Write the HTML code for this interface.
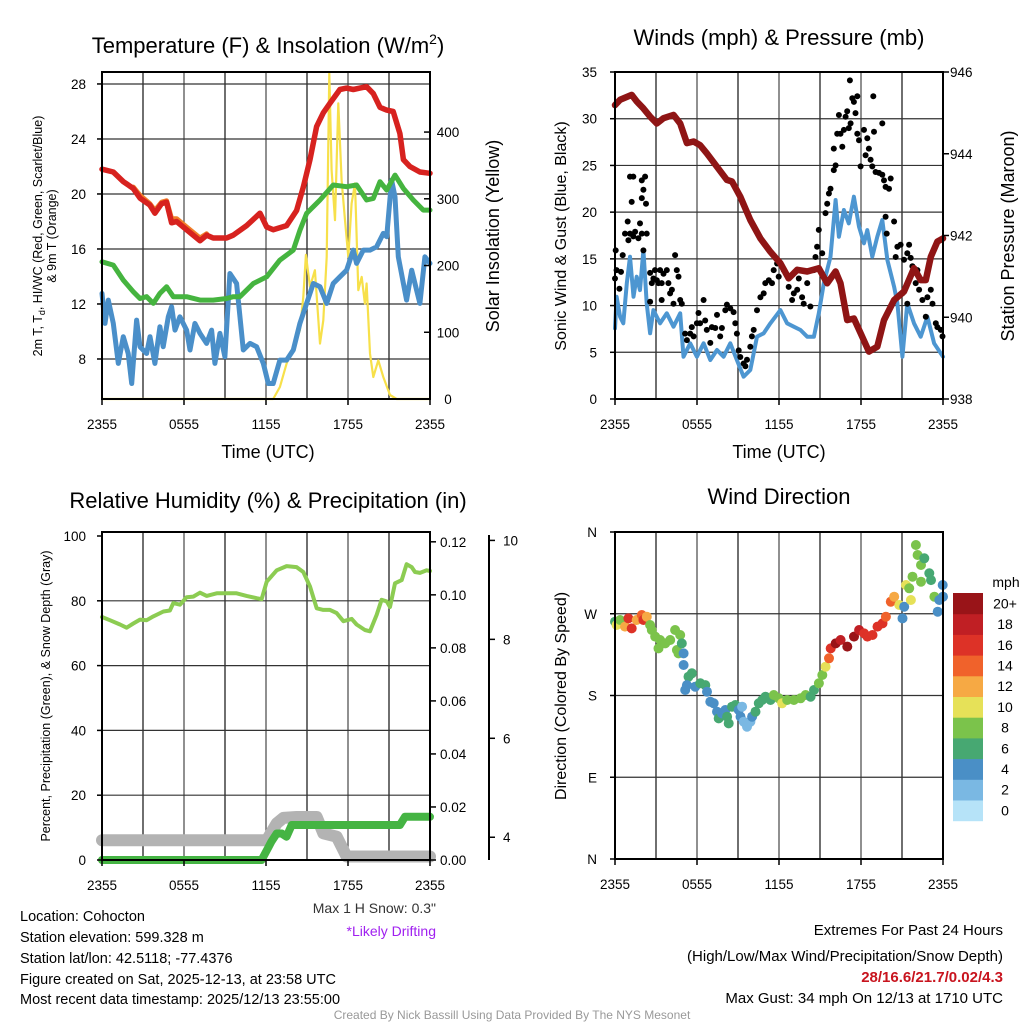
<!DOCTYPE html>
<html><head><meta charset="utf-8"><style>
body{margin:0;background:#fff}
svg{display:block;font-family:"Liberation Sans",sans-serif}
</style></head><body>
<svg id="s" width="1024" height="1024" viewBox="0 0 1024 1024" xmlns="http://www.w3.org/2000/svg">
<rect width="1024" height="1024" fill="#fff"/>
<g id="g"></g>
<g font-size="22" text-anchor="middle" fill="#000">
<text x="268" y="53">Temperature (F) &amp; Insolation (W/m<tspan dy="-9" font-size="14">2</tspan><tspan dy="9">)</tspan></text>
<text x="779" y="45">Winds (mph) &amp; Pressure (mb)</text>
<text x="268" y="508">Relative Humidity (%) &amp; Precipitation (in)</text>
<text x="779" y="504">Wind Direction</text>
</g>
<g font-size="18" text-anchor="middle">
<text x="268" y="458">Time (UTC)</text>
<text x="779" y="458">Time (UTC)</text>
<text transform="translate(499,236) rotate(-90)">Solar Insolation (Yellow)</text>
<text transform="translate(1014,236) rotate(-90)">Station Pressure (Maroon)</text>
<text transform="translate(566,236) rotate(-90)" font-size="16">Sonic Wind &amp; Gust (Blue, Black)</text>
<text transform="translate(566,696) rotate(-90)" font-size="16">Direction (Colored By Speed)</text>
<text transform="translate(42,236) rotate(-90)" font-size="12.5">2m T, T<tspan dy="3" font-size="9">d</tspan><tspan dy="-3">, HI/WC (Red, Green, Scarlet/Blue)</tspan></text>
<text transform="translate(56,236) rotate(-90)" font-size="12.5">&amp; 9m T (Orange)</text>
<text transform="translate(50,696) rotate(-90)" font-size="12.5">Percent, Precipitation (Green), &amp; Snow Depth (Gray)</text>
</g>
<g font-size="14">
<text x="436" y="913" text-anchor="end" fill="#333">Max 1 H Snow: 0.3"</text>
<text x="436" y="936" text-anchor="end" fill="#a020f0">*Likely Drifting</text>
<g font-size="14.5">
<text x="20" y="921">Location: Cohocton</text>
<text x="20" y="942">Station elevation: 599.328 m</text>
<text x="20" y="963">Station lat/lon: 42.5118; -77.4376</text>
<text x="20" y="984">Figure created on Sat, 2025-12-13, at 23:58 UTC</text>
<text x="20" y="1004">Most recent data timestamp: 2025/12/13 23:55:00</text>
</g>
<g font-size="15" text-anchor="end">
<text x="1003" y="935">Extremes For Past 24 Hours</text>
<text x="1003" y="961">(High/Low/Max Wind/Precipitation/Snow Depth)</text>
<text x="1003" y="982" fill="#c8141e" font-weight="bold">28/16.6/21.7/0.02/4.3</text>
<text x="1003" y="1003">Max Gust: 34 mph On 12/13 at 1710 UTC</text>
</g>
<text x="512" y="1019" text-anchor="middle" font-size="12" fill="#999">Created By Nick Bassill Using Data Provided By The NYS Mesonet</text>
</g>
</svg>
<script>
// ---- Panel 1 data ----
const tempH=[0,0.83,1.56,2.29,2.78,3.5,3.87,4.36,4.73,5.09,5.46,6.19,7.17,7.65,8.14,9.12,9.6,10.58,11.56,12.05,12.53,13.51,14.24,14.73,15.22,15.7,16.19,16.68,17.41,17.9,18.39,18.87,19.36,19.85,20.34,20.83,21.31,21.8,22.05,22.53,23.26,24];
const tempV=[21.8,21.6,20.9,20.4,19.7,19.2,18.6,19.3,19.4,17.9,18.0,17.4,16.6,17.0,16.8,16.8,17.0,17.7,18.6,17.6,17.4,17.7,18.8,20.5,22.5,24.9,25.9,26.6,27.6,27.7,27.6,27.7,27.8,27.3,26.3,26.1,26.0,24.4,22.5,22.0,21.6,21.5];
const orangeH=[2.29,2.78,3.5,3.87,4.36,4.73,5.09,5.46,6.19,7.17,7.65];
const orangeV=[20.5,19.9,19.3,18.8,19.4,19.5,18.2,18.2,17.6,16.8,17.1];
const dewH=[0,0.83,1.56,2.29,2.78,3.26,3.75,4.24,4.73,5.22,6.19,7.17,8.14,9.12,9.6,10.09,11.07,12.05,13.02,14,14.49,14.97,15.95,16.92,17.9,18.63,19.36,19.85,20.34,20.83,21.44,22.05,22.78,23.51,24];
const dewV=[15.07,14.83,13.74,12.89,12.4,12.53,12.04,12.77,13.25,12.53,12.53,12.28,12.28,12.4,12.53,12.53,13.49,13.98,15.19,15.92,17.37,18.59,19.56,20.65,20.53,20.65,19.56,19.68,20.89,20.28,21.37,20.4,19.56,18.83,18.83];
const wcH=[0,0.22,0.46,0.83,1.19,1.56,1.92,2.17,2.53,2.78,3.26,3.51,3.87,4.24,4.48,4.85,5.09,5.34,5.7,6.19,6.44,6.8,7.17,7.65,8.02,8.26,8.63,8.99,9.36,9.85,10.34,10.83,11.31,11.8,12.17,12.53,13.02,13.51,14,14.48,14.97,15.46,15.95,16.44,16.92,17.41,17.9,18.39,18.63,19.12,19.61,20.09,20.58,20.83,21.19,21.44,21.68,22.05,22.29,22.66,23.02,23.26,23.63,24];
const wcV=[12.77,10.59,12.28,10.59,7.68,9.62,8.4,6.22,10.83,8.89,8.4,9.62,7.68,10.34,8.89,11.07,11.8,10.1,11.07,10.1,8.65,10.59,9.86,9.13,10.1,7.68,9.86,8.16,14.22,13.49,8.65,9.13,8.89,7.68,6.22,6.22,7.92,7.92,8.65,10.59,12.04,13.49,13.25,12.04,13.49,13.98,14.46,15.92,14.95,15.92,15.92,16.16,17.13,16.89,21.01,19.8,15.43,13.49,12.28,14.46,13.01,12.04,15.43,14.95];
const solarH=[0,12.53,13.02,13.51,14,14.48,14.73,14.92,15.22,15.58,15.95,16.19,16.44,16.63,16.8,17.05,17.29,17.53,17.78,18.02,18.26,18.51,18.75,19,19.24,19.36,19.61,19.85,20.22,20.58,21.07,21.56,24];
const solarV=[0,0,18,53,78,103,153,216,168,193,83,118,213,488,343,268,443,328,268,213,293,323,163,183,143,173,68,33,58,33,6,0,0];
const p1TempTicks=[8,12,16,20,24,28];
const p1SolarTicks=[0,100,200,300,400];
const timeTicks=[0,6,12,18,24];
const timeLabels=["2355","0555","1155","1755","2355"];
// ---- Panel 2 data ----
const presH=[0,0.37,1.22,1.59,2.08,2.57,3.06,3.55,4.28,4.77,5.26,5.75,6.23,6.72,7.46,8.19,8.56,9.17,9.9,10.64,11.37,12.1,12.71,13.33,14.06,14.91,15.53,16.14,16.5,16.99,17.48,17.97,18.58,19.19,19.68,20.42,21.15,21.88,22.37,22.74,23.11,23.59,24];
const presV=[945.19,945.32,945.44,945.28,945.11,944.91,944.74,944.87,944.95,944.74,944.26,944.3,944.21,944.01,943.68,943.36,943.32,942.95,942.38,941.93,941.6,941.32,940.95,941.16,941.12,941.2,940.83,941.12,940.83,939.93,939.97,939.61,939.16,939.28,939.93,940.42,940.63,941.2,940.91,940.91,941.48,941.85,941.93];
const windH=[0,0.12,0.37,0.61,0.86,1.1,1.35,1.59,1.83,2.08,2.32,2.57,2.81,3.3,3.79,4.28,4.77,5.01,5.5,5.99,6.48,6.97,7.46,7.95,8.44,8.92,9.41,9.9,10.39,10.88,11.37,12.1,12.59,13.08,13.57,14.06,14.55,14.91,15.28,15.77,16.14,16.38,16.75,17.11,17.48,17.85,18.22,18.46,18.83,19.19,19.56,19.93,20.42,20.66,21.03,21.39,21.88,22.37,22.86,23.35,24];
const windV=[7.56,10.95,8.81,8.1,12.38,15.23,10.95,13.09,11.66,15.94,10.24,7.03,9.52,8.1,9.17,7.74,9.17,4.53,5.96,4.53,5.96,4.17,5.24,4.53,5.96,4.17,2.39,3.1,6.67,7.03,8.1,9.52,8.1,7.74,7.38,6.67,6.67,9.17,12.38,15.23,21.3,17.37,20.23,18.8,21.65,18.44,16.66,18.08,15.23,17.37,19.16,14.87,12.02,10.24,4.53,10.24,8.1,6.67,8.81,5.96,4.53];
const gustH=[0,0.05,0.12,0.32,0.44,0.56,0.73,0.93,0.98,1.1,1.34,1.47,1.71,1.83,1.96,2.08,2.32,1.22,1.1,1.34,1.96,2.2,2.08,1.96,2.27,2.57,2.69,2.81,2.93,3.06,3.18,3.3,3.42,3.55,3.79,3.91,4.03,4.16,4.28,4.4,4.52,4.65,4.77,4.89,2.57,3.42,5.13,5.26,5.5,5.62,5.75,5.99,6.11,6.23,6.48,6.6,6.72,6.97,7.09,7.34,7.46,7.7,7.82,8.07,8.19,8.44,8.68,8.8,8.92,9.05,9.17,9.41,9.54,9.66,9.9,10.02,10.15,10.39,10.64,10.88,11.0,11.25,11.49,11.61,11.86,11.98,12.35,12.71,12.96,13.08,13.33,13.45,13.69,13.81,14.06,14.3,14.55,14.67,14.79,14.91,15.16,15.4,15.53,15.65,15.77,16.01,16.14,16.01,16.26,16.38,16.5,16.63,16.75,16.87,16.99,17.11,17.24,17.36,17.48,17.6,17.73,17.85,17.73,17.19,18.46,18.22,18.58,18.34,17.97,18.7,18.83,19.07,19.32,19.56,19.68,18.95,18.9,19.56,19.8,20.05,19.8,20.42,19.88,20.17,20.54,20.66,20.9,21.15,21.39,21.52,21.64,21.76,22.13,22.0,22.25,22.49,22.74,22.86,23.11,23.23,23.47,23.59,23.84,23.96,21.03,21.39];
const gustV=[12.9,15.9,13.8,11.8,13.6,15.4,17.7,19.0,17.0,17.7,17.4,17.9,17.2,18.8,17.7,15.9,17.7,21.1,23.8,23.8,23.4,23.8,22.4,21.5,20.9,13.5,12.4,12.9,13.8,12.7,12.4,13.8,12.4,13.4,13.8,12.4,11.3,11.7,10.2,15.4,13.8,13.1,10.6,10.2,10.4,10.6,7.0,6.3,7.0,7.7,6.7,8.1,9.2,8.1,10.6,8.4,7.4,6.0,7.7,7.6,9.0,6.7,7.6,9.5,10.1,9.7,9.3,8.1,7.0,5.2,4.5,3.8,3.5,4.2,5.6,6.7,7.4,9.5,10.9,11.3,12.4,12.7,12.4,13.8,14.5,13.1,13.8,12.0,10.6,11.3,11.7,12.9,10.9,10.2,12.4,9.9,13.8,15.2,16.3,18.1,15.6,19.9,20.9,22.0,22.5,24.5,25.0,26.8,28.4,30.4,28.4,27.0,28.8,30.2,30.8,29.0,29.5,32.2,31.8,30.6,28.4,27.7,32.4,34.1,27.9,28.8,26.8,26.1,24.9,25.6,24.9,24.3,24.2,24.0,23.4,28.6,32.4,29.5,22.7,22.5,19.5,19.0,17.7,23.6,15.2,16.3,16.5,14.9,15.6,16.5,15.1,14.2,13.8,12.4,11.7,10.6,8.8,10.9,11.7,10.2,8.1,7.7,7.4,6.7,11.3,10.2];
const windTicks=[0,5,10,15,20,25,30,35];
const presTicks=[938,940,942,944,946];
// ---- Panel 3 data ----
const rhH=[0,0.58,1.32,1.8,2.29,2.78,3.27,3.75,4.49,4.97,5.22,5.71,6.19,6.68,7.17,7.66,8.39,9.12,9.85,10.58,11.32,11.68,12.05,12.78,13.51,14.24,14.73,15.22,15.71,16.19,16.68,17.17,17.66,18.27,18.63,19.24,19.61,20.1,20.46,20.83,21.07,21.44,21.93,22.29,22.66,22.9,23.27,23.76,24];
const rhV=[75.0,74.0,72.7,71.7,73.0,74.2,74.0,75.2,76.7,77.0,79.3,78.8,81.1,81.3,82.5,81.5,82.3,82.3,82.3,81.5,80.8,80.5,85.9,89.4,90.7,90.4,88.9,84.4,77.7,77.2,77.2,76.2,73.7,74.4,72.7,71.0,70.6,75.7,80.3,79.8,78.1,85.4,86.4,91.3,90.4,88.9,88.6,89.4,89.2];
const precipH=[0,11.68,12.2,12.4,12.78,13.15,13.5,13.88,21.8,22.17,24];
const precipV=[0,0,0.005,0.007,0.010,0.010,0.0088,0.0132,0.0132,0.0163,0.0163];
const snowH=[0,12.05,12.78,13.27,14.24,15.71,16.19,17.17,17.9,24];
const snowV=[3.94,3.94,4.28,4.39,4.41,4.41,4.08,4.01,3.61,3.61];
const rhTicks=[0,20,40,60,80,100];
const precipTicks=[0,0.02,0.04,0.06,0.08,0.10,0.12];
const snowTicks=[4,6,8,10];
// ---- Panel 4 data ----
const dirH=[0,0.12,0.37,0.73,0.98,1.22,1.59,1.96,2.08,2.33,2.57,2.69,2.94,3.3,3.18,3.67,4.04,4.4,4.77,4.53,4.89,4.65,5.02,5.02,5.38,5.63,5.26,5.14,5.87,6.24,6.61,6.73,6.97,7.22,7.46,7.59,7.83,8.07,8.2,8.32,8.56,8.81,9.05,9.18,9.3,9.42,9.66,9.91,10.03,10.28,10.52,10.77,11.01,11.38,11.62,11.99,12.23,12.6,13.09,13.58,13.95,14.31,14.56,14.92,15.17,15.41,15.66,15.78,16.15,16.51,17.0,17.49,17.86,18.23,18.47,18.84,19.21,19.57,19.82,20.18,20.43,20.8,21.04,21.16,21.29,21.53,21.65,21.77,22.02,22.14,22.39,22.63,23.0,23.12,22.39,23.37,23.73,23.61,23.98,24];
const dirV=[261.3,257.6,263.1,255.8,264.9,253.9,263.1,268.6,263.1,266.8,257.6,252.1,244.8,241.1,231.9,237.4,241.1,252.1,246.6,230.1,237.4,226.4,226.4,213.6,200.7,204.4,191.5,186.0,189.7,193.4,191.5,184.2,173.2,171.4,162.2,154.8,160.3,164.0,156.7,149.3,167.7,169.5,164.0,156.7,167.7,151.2,145.7,151.2,156.7,162.2,171.4,175.0,178.7,175.0,180.5,176.9,171.4,175.0,175.0,176.9,180.5,178.7,186.0,193.4,202.6,211.7,220.9,231.9,237.4,241.1,233.8,244.8,252.1,248.4,244.8,246.6,255.8,259.4,266.8,283.3,288.8,279.6,264.9,277.8,301.6,298.0,285.1,310.8,345.7,334.7,323.7,331.0,314.5,307.1,305.3,288.8,285.1,272.3,301.6,288.8];
const dirSpd=[6.5,10.5,9,12.5,16.5,17,13,15,17,12.5,8.5,8.5,8.5,8.5,8.5,8.5,8.5,8.5,8.5,8.5,6.5,8.5,4.5,4.5,6.5,6.5,4.5,4.5,4.5,6.5,6.5,4.5,4.5,4.5,4.5,6.5,4.5,4.5,6.5,6.5,6.5,6.5,4.5,4.5,2.5,2.5,2.5,2.5,4.5,6.5,6.5,6.5,6.5,6.5,8.5,8.5,10.5,8.5,8.5,8.5,8.5,6.5,6.5,8.5,8.5,10.5,14.5,16.5,20.5,18.5,20.5,20.5,18.5,16.5,16.5,16.5,16.5,16.5,14.5,14.5,12.5,10.5,4.5,4.5,10.5,8.5,10.5,8.5,8.5,8.5,8.5,6.5,6.5,6.5,8.5,8.5,4.5,4.5,4.5,4.5];
const dirTicks=[0,90,180,270,360];
const dirLabels=["N","E","S","W","N"];
const cbLabels=["0","2","4","6","8","10","12","14","16","18","20+"];
const cbColors=["#b6e3f8","#7ab8e3","#4a8fc6","#47a872","#7bc34b","#e6e158","#f6a944","#f0622b","#dd3227","#c01f24","#991418"];

const NS="http://www.w3.org/2000/svg";
const G=document.getElementById('g');
function mk(tag,attrs,parent){const e=document.createElementNS(NS,tag);for(const k in attrs)e.setAttribute(k,attrs[k]);(parent||G).appendChild(e);return e;}
function lin(d0,d1,r0,r1){return v=>r0+(v-d0)*(r1-r0)/(d1-d0);}
function path(xs,ys,sx,sy){let d='';for(let i=0;i<xs.length;i++)d+=(i?'L':'M')+sx(xs[i]).toFixed(1)+' '+sy(ys[i]).toFixed(1);return d;}

function frame(x0,x1,y0,y1,name){
  const g=mk('g',{});
  
  
  for(let i=0;i<=8;i++){const x=x0+(x1-x0)*i/8;mk('line',{x1:x,x2:x,y1:y0,y2:y1,stroke:i%2?'#222':'#555','stroke-width':1.3},g);}
  return g;
}
function hgrid(ys,x0,x1,g){ys.forEach(y=>mk('line',{x1:x0,x2:x1,y1:y,y2:y,stroke:'#333','stroke-width':1.2},g));}
function border(x0,x1,y0,y1,name){const r=mk('rect',{x:x0,y:y0,width:x1-x0,height:y1-y0,fill:'none',stroke:'#000','stroke-width':2});}
function xticks(sx,y1,name){
  timeTicks.forEach((t,i)=>{
    mk('line',{x1:sx(t),x2:sx(t),y1:y1,y2:y1+6,stroke:'#000','stroke-width':1.5});
    const tx=mk('text',{x:sx(t),y:y1+30,'font-size':13.5,'text-anchor':'middle'});tx.textContent=timeLabels[i];
    
    
  });
}
function ylabels(ticks,sy,x,anchor,fmt,name,tickX,tickDir){
  ticks.forEach(v=>{
    const y=sy(v);
    if(tickX!==undefined)mk('line',{x1:tickX,x2:tickX+tickDir,y1:y,y2:y,stroke:'#000','stroke-width':1.5});
    const t=mk('text',{x:x,y:y+5,'font-size':13.5,'text-anchor':anchor});t.textContent=fmt(v);
    
    
  });
}
function series(xs,ys,sx,sy,color,w,name){
  const p=mk('path',{d:path(xs,ys,sx,sy),fill:'none',stroke:color,'stroke-width':w,'stroke-linejoin':'round','stroke-linecap':'round'});
  
  
}

// Panel 1
(function(){
  const x0=102,x1=430,y0=72,y1=399;
  const sx=lin(0,24,x0,x1), sy=lin(5.09,28.87,y1,y0), ss=lin(0,490,y1,y0);
  const g=frame(x0,x1,y0,y1,'temperature');
  hgrid(p1TempTicks.map(sy),x0,x1,g);
  series(solarH,solarV,sx,ss,'#f7e04a',2.2,'solar-insolation-line');
  series(wcH,wcV,sx,sy,'#4a8fc9',5,'wind-chill-line');
  series(dewH,dewV,sx,sy,'#45b43f',5,'dewpoint-line');
  series(orangeH,orangeV,sx,sy,'#f07f2a',5,'temp-9m-line');
  series(tempH,tempV,sx,sy,'#d7221f',5.5,'temp-2m-line');
  border(x0,x1,y0,y1,'temperature');
  xticks(sx,y1,'temperature');
  ylabels(p1TempTicks,sy,86,'end',v=>v,'temperature-y-tick-label',x0,-5);
  ylabels(p1SolarTicks,ss,448,'middle',v=>v,'solar-y-tick-label',x1,-6);
})();

// Panel 2
(function(){
  const x0=615,x1=943,y0=72,y1=399;
  const sx=lin(0,24,x0,x1), sy=lin(0,35,y1,y0), sp=lin(938,946,y1,y0);
  const g=frame(x0,x1,y0,y1,'winds');
  hgrid(windTicks.slice(1,-1).map(sy),x0,x1,g);
  series(windH,windV,sx,sy,'#4d96d1',4,'sonic-wind-line');
  for(let i=0;i<gustH.length;i++){
    const c=mk('circle',{cx:sx(gustH[i]).toFixed(1),cy:sy(gustV[i]).toFixed(1),r:3,fill:'#000'});
    
    
  }
  series(presH,presV,sx,sp,'#8f1515',6.5,'pressure-line');
  border(x0,x1,y0,y1,'winds');
  xticks(sx,y1,'winds');
  ylabels(windTicks,sy,597,'end',v=>v,'wind-y-tick-label',x0,-5);
  ylabels(presTicks,sp,950,'start',v=>v,'pressure-y-tick-label',x1,6);
})();

// Panel 3
(function(){
  const x0=102,x1=430,y0=532,y1=860;
  const sx=lin(0,24,x0,x1), sy=lin(0,100,y1,y0+4), sp=lin(0,0.1237,y1,y0), sn=lin(3.54,10.17,y1,y0);
  const g=frame(x0,x1,y0,y1,'humidity');
  hgrid(rhTicks.slice(1,-1).map(sy),x0,x1,g);
  series(snowH,snowV,sx,sn,'#b3b3b3',12,'snow-depth-line');
  series(precipH,precipV,sx,sp,'#45b443',8,'precipitation-line');
  series(rhH,rhV,sx,sy,'#8ccc52',4,'relative-humidity-line');
  border(x0,x1,y0,y1,'humidity');
  xticks(sx,y1,'humidity');
  ylabels(rhTicks,sy,86,'end',v=>v,'humidity-y-tick-label',x0,-5);
  ylabels(precipTicks,sp,440,'start',v=>v.toFixed(2),'precip-y-tick-label',x1,6);
  const ax=mk('line',{x1:489,x2:489,y1:535,y2:860,stroke:'#000','stroke-width':2});
  
  
  ylabels(snowTicks,sn,503,'start',v=>v,'snow-y-tick-label',489,6);
})();

// Panel 4
(function(){
  const x0=615,x1=943,y0=532,y1=859;
  const sx=lin(0,24,x0,x1), sy=lin(0,360,y1,y0);
  const g=frame(x0,x1,y0,y1,'direction');
  hgrid(dirTicks.slice(1,-1).map(sy),x0,x1,g);
  for(let i=0;i<dirH.length;i++){
    const b=Math.min(10,Math.floor(dirSpd[i]/2));
    const c=mk('circle',{cx:sx(dirH[i]).toFixed(1),cy:sy(dirV[i]).toFixed(1),r:5,fill:cbColors[b]});
    
    
  }
  border(x0,x1,y0,y1,'direction');
  xticks(sx,y1,'direction');
  ylabels(dirTicks,sy,597,'end',(v)=>dirLabels[dirTicks.indexOf(v)],'direction-y-tick-label',x0,-5);
  const lg=mk('g',{});
  
  
  const cy0=593,ch=20.7;
  for(let i=0;i<11;i++){
    const y=cy0+(10-i)*ch;
    mk('rect',{x:953,y:y,width:30,height:ch+0.5,fill:cbColors[i]},lg);
    const t=mk('text',{x:1005,y:y+ch/2+5,'font-size':14,'text-anchor':'middle'},lg);t.textContent=cbLabels[i];
  }
  const m=mk('text',{x:1006,y:587,'font-size':14,'text-anchor':'middle'},lg);m.textContent='mph';
})();
</script>
</body></html>
